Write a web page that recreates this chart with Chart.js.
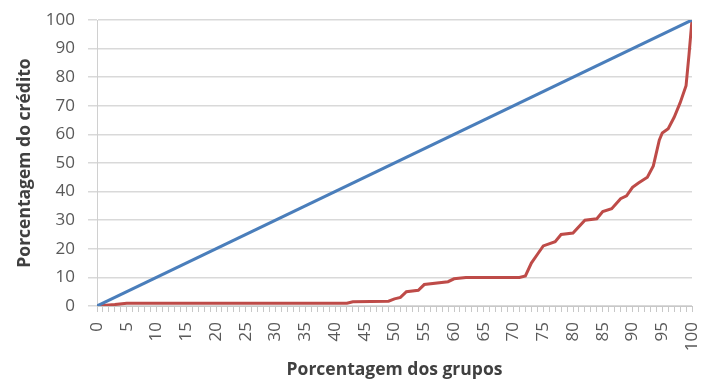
<!DOCTYPE html>
<html lang="pt">
<head>
  <meta charset="UTF-8" />
  <title>Curva de Lorenz</title>
  <script src="https://cdn.jsdelivr.net/npm/chart.js"></script>
  <style>
    body { margin: 0; background: white; }
    canvas { display: block; }
  </style>
</head>
<body>
  <canvas id="lorenz" width="701" height="385"></canvas>
  <script>
    // linha de igualdade
    const equalityX = [0, 100];
    const equalityY = [0, 100];

    // curva de Lorenz (porcentagem dos grupos -> porcentagem do crédito)
    const groupPct = [0, 3, 5, 42, 43, 49, 50, 51, 52, 54, 55, 59, 60, 62, 71, 72, 73, 74, 75, 77, 78, 80, 82, 84,
                      85, 86.5, 88, 89, 90, 91, 92.5, 93.5, 94.5, 95, 96, 97, 98, 99, 99.5, 100];
    const creditPct = [0, 0.5, 1, 1, 1.5, 1.7, 2.5, 3, 5, 5.5, 7.5, 8.5, 9.5, 10, 10, 10.5, 15, 18, 21, 22.5, 25, 25.5, 30, 30.5,
                       33, 34, 37.5, 38.5, 41.5, 43, 45, 49, 58, 60.5, 62, 66, 71, 77, 88, 100];

    const xTickStep = 5;
    const yTicks = [0, 10, 20, 30, 40, 50, 60, 70, 80, 90, 100];

    const toPoints = (xs, ys) => xs.map((x, i) => ({ x: x, y: ys[i] }));

    new Chart(document.getElementById("lorenz"), {
      type: "line",
      data: {
        datasets: [
          {
            data: toPoints(equalityX, equalityY),
            borderColor: "#4a7ebb",
            borderWidth: 3,
            pointRadius: 0,
            tension: 0
          },
          {
            data: toPoints(groupPct, creditPct),
            borderColor: "#be4b48",
            borderWidth: 3,
            pointRadius: 0,
            tension: 0
          }
        ]
      },
      options: {
        responsive: false,
        animation: false,
        layout: { padding: { top: 20, right: 9, left: 14, bottom: 4 } },
        plugins: {
          legend: { display: false },
          tooltip: { enabled: false }
        },
        scales: {
          x: {
            type: "linear",
            min: 0,
            max: 100,
            afterFit: s => {
              s.height = 75;
              s.paddingLeft = 0;
              s.paddingRight = 0;
            },
            afterBuildTicks: s => {
              s.ticks = [];
              for (let v = 0; v <= 100; v++) s.ticks.push({ value: v });
            },
            ticks: {
              autoSkip: false,
              minRotation: 90,
              maxRotation: 90,
              padding: 10,
              color: "#595959",
              font: { family: "Open Sans", size: 17 },
              callback: v => (v % xTickStep === 0 ? String(v) : "")
            },
            grid: {
              drawOnChartArea: false,
              drawTicks: true,
              tickLength: 6,
              color: "#c8c8c8"
            },
            border: { color: "#c8c8c8" },
            title: {
              display: true,
              text: "Porcentagem dos grupos",
              color: "#404040",
              font: { family: "Open Sans", size: 17.5, weight: "bold" },
              padding: { top: 0, bottom: 0 }
            }
          },
          y: {
            min: 0,
            max: 100,
            afterFit: s => {
              s.width = 83;
              s.paddingTop = 0;
              s.paddingBottom = 0;
            },
            afterBuildTicks: s => { s.ticks = yTicks.map(v => ({ value: v })); },
            ticks: {
              padding: 13,
              color: "#595959",
              font: { family: "Open Sans", size: 17 }
            },
            grid: {
              color: "#d9d9d9",
              lineWidth: 1.5,
              tickLength: 9
            },
            border: { color: "#d0d0d0" },
            title: {
              display: true,
              text: "Porcentagem do crédito",
              color: "#404040",
              font: { family: "Open Sans", size: 17.5, weight: "bold" },
              padding: { top: 1, bottom: 4 }
            }
          }
        }
      }
    });
  </script>
</body>
</html>
